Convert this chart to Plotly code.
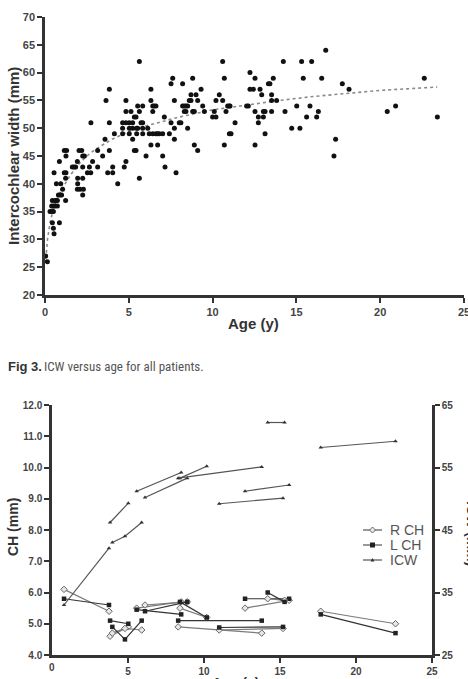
import plotly.graph_objects as go

# ---------------- Top chart data: ICW vs age (all patients) ----------------
scatter_age = [
    1.15, 1.29, 1.25, 2.03, 2.19, 2.25, 2.35, 2.74, 3.14, 3.44, 3.58, 3.64, 3.84, 3.84, 3.84, 4.14,
    4.83, 4.83, 5.13, 4.63, 4.83, 5.03, 5.23, 4.63, 5.03, 5.23, 5.47, 5.53, 4.63, 5.03, 5.47, 5.83,
    5.23, 5.33, 5.43, 5.63, 5.53, 5.83, 5.63, 5.73, 5.83, 5.83, 5.33, 5.43, 6.03, 6.32, 6.32, 6.43,
    6.52, 6.62, 6.43, 6.13, 6.22, 6.43, 6.62, 7.02, 6.32, 6.72, 6.72, 6.82, 7.02, 7.12, 7.42, 7.52,
    7.62, 7.72, 7.52, 7.72, 7.72, 8.01, 8.11, 8.21, 8.31, 8.41, 8.21, 8.31, 8.41, 8.51, 8.51, 8.61,
    8.71, 8.81, 8.71, 9.01, 8.81, 8.91, 8.91, 9.11, 9.11, 9.31, 9.41, 9.51, 10.1, 10.0, 10.2, 10.2,
    10.4, 10.6, 10.7, 10.6, 10.7, 10.8, 10.9, 11.0, 11.0, 11.34,
    11.04, 11.1, 12.23, 12.53, 12.23, 12.43, 12.83, 12.93, 12.03, 12.13, 12.53, 12.73, 13.03, 12.73,
    13.03, 13.13, 12.53, 13.13, 13.33, 13.42, 13.52, 13.52, 13.82, 13.52, 13.62, 14.22, 14.32, 14.72,
    15.02, 15.21, 15.31, 15.41, 15.61, 15.81, 15.91, 16.21, 16.31, 16.51, 16.75, 17.24, 17.34, 17.74,
    18.14, 20.42, 20.92, 22.63, 23.41,
    0.04, 0.14, 0.3, 0.4, 0.5, 0.44, 0.5, 0.54, 0.4, 0.5, 0.6, 0.44, 0.6, 0.54, 0.68, 0.66, 0.74,
    0.74, 0.8, 0.9, 0.99, 0.86, 0.86, 0.94, 1.05, 1.15, 1.25, 1.23, 1.23, 1.63, 1.73, 1.83, 1.93,
    1.95, 1.95, 1.93, 2.09, 2.29, 2.25, 2.25, 2.25, 2.53, 2.73, 2.65, 2.84, 3.14, 3.74, 4.04, 4.04,
    4.34, 4.73, 4.83, 5.63, 7.16, 7.82,
]
scatter_icw = [
    46, 46, 45, 46, 46, 45, 45, 51, 46, 45, 48, 55, 57, 51, 46, 49,
    55, 53, 53, 51, 51, 51, 51, 50, 50, 50, 50, 50, 49, 49, 49, 49,
    48, 52, 52, 62, 54, 54, 53, 51, 51, 50, 46, 46, 45, 57, 55, 54,
    54, 54, 53, 50, 49, 49, 49, 49, 47, 47, 49, 49, 45, 52, 49, 58,
    59, 55, 51, 50, 48, 51, 51, 58, 53, 53, 54, 54, 54, 54, 50, 55,
    55, 59, 56, 56, 53, 53, 47, 46, 55, 57, 54, 53, 53, 52, 52, 55,
    56, 62, 59, 55, 47, 53, 54, 54, 49, 51,
    54, 49, 60, 59, 57, 57, 57, 56, 54, 54, 53, 52, 52, 51,
    53, 53, 47, 49, 58, 58, 56, 55, 55, 53, 59, 62, 53, 50,
    54, 50, 62, 59, 52, 54, 62, 52, 53, 59, 64, 45, 48, 58,
    57, 53, 54, 59, 52,
    27, 26, 35, 35, 35, 33, 32, 31, 36, 36, 36, 37, 37, 42, 40, 37, 37,
    36, 38, 38, 38, 33, 44, 40, 39, 42, 42, 37, 41, 43, 43, 43, 44,
    41, 40, 39, 39, 39, 38, 43, 41, 42, 42, 43, 44, 43, 42, 42, 43,
    40, 43, 44, 41, 43, 42,
]
# trend curve
fit_age = [0.05, 0.15, 0.3, 0.5, 0.75, 1.0, 1.5, 2.0, 2.5, 3.0, 4.0, 5.0, 6.0, 7.0, 8.0,
           10.0, 12.0, 14.0, 16.0, 18.0, 20.0, 23.4]
fit_icw = [26.5, 30.0, 33.0, 35.5, 37.5, 39.0, 41.5, 43.5, 45.0, 46.2, 48.0, 49.4, 50.4, 51.2, 52.0,
           53.3, 54.2, 55.0, 55.7, 56.3, 56.8, 57.4]

# ---------------- Bottom chart data: per-patient follow-up ----------------
patient_ages = [
    [0.79, 3.75], [3.82, 5.02], [3.97, 4.8, 5.9], [5.57, 8.5], [6.12, 8.9], [8.42, 10.18],
    [8.3, 13.8], [11.0, 15.2], [12.7, 15.6], [14.19, 15.3], [17.68, 22.6],
]
r_ch = [
    [6.1, 5.4], [4.6, 4.9], [4.7, 4.85, 4.8], [5.5, 5.7], [5.6, 5.7], [5.5, 5.2],
    [4.9, 4.7], [4.8, 4.85], [5.5, 5.75], [5.8, 5.75], [5.4, 5.0],
]
l_ch = [
    [5.8, 5.6], [5.1, 5.0], [4.9, 4.5, 5.1], [5.45, 5.3], [5.4, 5.7], [5.7, 5.2],
    [5.1, 5.1], [4.88, 4.9], [5.8, 5.8], [6.0, 5.7], [5.3, 4.7],
]
icw = [
    [33.0, 42.1], [46.2, 49.3], [43.0, 44.0, 46.2], [51.2, 54.2], [50.2, 53.3], [53.3, 55.2],
    [53.3, 55.1], [49.2, 50.1], [51.2, 52.2], [62.2, 62.2], [58.2, 59.2],
]
legend_names = ["R CH", "L CH", "ICW"]
age_ticks = [0, 5, 10, 15, 20, 25]

W, H = 468, 679
FONT = "Liberation Sans, Arial, sans-serif"
AX = "#333333"
LBL = "#444444"


def px(x):
    return x / W


def py(y):
    return 1 - y / H


fig = go.Figure()

# top chart
fig.add_trace(go.Scatter(x=fit_age, y=fit_icw, mode="lines",
                         line=dict(color="#8a8a8a", width=1.6, dash="dot"),
                         xaxis="x", yaxis="y", showlegend=False, hoverinfo="skip"))
fig.add_trace(go.Scatter(x=scatter_age, y=scatter_icw, mode="markers",
                         marker=dict(color="#111111", size=5),
                         xaxis="x", yaxis="y", showlegend=False))

# bottom chart
for ages, r, l, w in zip(patient_ages, r_ch, l_ch, icw):
    fig.add_trace(go.Scatter(x=ages, y=r, mode="lines+markers", xaxis="x2", yaxis="y2",
                             line=dict(color="#7a7a7a", width=1.2),
                             marker=dict(symbol="diamond", size=5, color="#e6e6e6",
                                         line=dict(color="#666666", width=1)),
                             showlegend=False))
    fig.add_trace(go.Scatter(x=ages, y=l, mode="lines+markers", xaxis="x2", yaxis="y2",
                             line=dict(color="#333333", width=1.2),
                             marker=dict(symbol="square", size=4.5, color="#222222"),
                             showlegend=False))
    fig.add_trace(go.Scatter(x=ages, y=w, mode="lines+markers", xaxis="x2", yaxis="y3",
                             line=dict(color="#555555", width=1.2),
                             marker=dict(symbol="triangle-up", size=4, color="#333333"),
                             showlegend=False))

small_font = dict(family=FONT, size=10, color=LBL, weight="bold")
axis_common = dict(showline=True, linecolor=AX, linewidth=2.5, ticks="outside", ticklen=5,
                   tickwidth=2, tickcolor=AX, showgrid=False, zeroline=False,
                   automargin=False, fixedrange=True, ticklabeloverflow="allow",
                   tickfont=dict(family=FONT, size=11, color=LBL, weight="bold"))

fig.update_layout(
    width=W, height=H, margin=dict(l=0, r=0, t=0, b=0),
    paper_bgcolor="white", plot_bgcolor="white", template=None,
    xaxis=dict(domain=[px(45), px(464)], range=[0, 25], tickvals=age_ticks,
               anchor="y", **axis_common),
    yaxis=dict(domain=[py(295), py(17)], range=[20, 70], tickvals=list(range(20, 71, 5)),
               anchor="x", **axis_common),
    xaxis2=dict(domain=[px(52), px(432)], range=[0, 25], tickvals=age_ticks[1:],
                anchor="y2", **{**axis_common, "tickfont": small_font}),
    yaxis2=dict(domain=[py(655), py(405)], range=[4, 12], tickvals=list(range(4, 13)),
                tickformat=".1f", anchor="x2", **{**axis_common, "tickfont": small_font}),
    yaxis3=dict(domain=[py(655), py(405)], range=[25, 65], tickvals=[25, 35, 45, 55, 65],
                overlaying="y2", side="right", anchor="x2",
                **{**axis_common, "tickfont": small_font}),
)


def note(text, x, y, size, color=AX, family=FONT, angle=0, xa="center", ya="middle", weight=None):
    f = dict(family=family, size=size, color=color)
    if weight:
        f["weight"] = weight
    return dict(text=text, x=px(x), y=py(y), xref="paper", yref="paper", xanchor=xa, yanchor=ya,
                textangle=angle, showarrow=False, font=f)


ann = [
    note("<b>Intercochlear width (mm)</b>", 14, 156, 15, angle=-90),
    note("<b>Age (y)</b>", 254, 323, 15),
    note("<b>Fig 3.</b>", 6, 366, 13, color="#333333", xa="left"),
    note("ICW versus age for all patients.", 42, 366, 13, color="#555555", xa="left",
         family="Liberation Sans Narrow, Roboto Condensed, Liberation Sans, sans-serif"),
    note("<b>CH (mm)</b>", 13, 527, 14, angle=-90),
    note("<b>ICW (mm)</b>", 472, 533, 14, angle=90),
    note("<b>Age (y)</b>", 235, 673, 14, ya="top"),
    # first age tick label of the lower chart, under the axis corner
    note(str(age_ticks[0]), 52, 667, 10, color=LBL, weight="bold"),
]

# manual legend
shapes = []
leg_y = [530, 545, 560]
for name, yy in zip(legend_names, leg_y):
    shapes.append(dict(type="line", xref="paper", yref="paper", x0=px(363), x1=px(382),
                       y0=py(yy), y1=py(yy), line=dict(color="#555555", width=1.2)))
    ann.append(note(name, 388, yy, 14, color="#555555", xa="left"))
cx = 372.5
shapes.append(dict(type="path", xref="paper", yref="paper",
                   path=f"M {px(cx-3)} {py(530)} L {px(cx)} {py(527)} L {px(cx+3)} {py(530)} L {px(cx)} {py(533)} Z",
                   fillcolor="#e6e6e6", line=dict(color="#666666", width=1)))
shapes.append(dict(type="rect", xref="paper", yref="paper", x0=px(cx-2.5), x1=px(cx+2.5),
                   y0=py(547.5), y1=py(542.5), fillcolor="#222222", line=dict(width=0)))
shapes.append(dict(type="path", xref="paper", yref="paper",
                   path=f"M {px(cx-2)} {py(561.5)} L {px(cx+2)} {py(561.5)} L {px(cx)} {py(558)} Z",
                   fillcolor="#333333", line=dict(width=0)))

fig.update_layout(annotations=ann, shapes=shapes)
fig.write_html("out.html")
